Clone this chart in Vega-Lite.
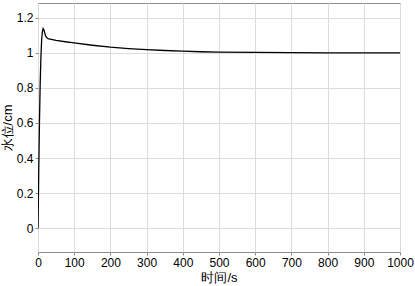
{
  "$schema": "https://vega.github.io/schema/vega-lite/v6.json",
  "width": 362,
  "height": 249,
  "autosize": {"type": "none"},
  "padding": {"left": 38, "top": 3, "right": 15, "bottom": 34},
  "background": "white",
  "config": {
    "font": "Liberation Sans",
    "view": {"stroke": "#8c8c8c", "strokeWidth": 1},
    "axis": {
      "gridColor": "#dcdcdc",
      "gridWidth": 1,
      "domain": false,
      "ticks": true,
      "tickColor": "#8c8c8c",
      "tickSize": 3,
      "labelFont": "Liberation Sans",
      "labelFontSize": 12,
      "labelColor": "#000",
      "labelOverlap": false,
      "labelFlush": false,
      "titleFont": "Liberation Sans",
      "titleFontSize": 13,
      "titleFontWeight": "normal",
      "titleColor": "#000"
    }
  },
  "data": {
    "values": [
      {"t": 0, "h": 0},
      {"t": 1, "h": 0.15},
      {"t": 2, "h": 0.32},
      {"t": 4, "h": 0.6},
      {"t": 6, "h": 0.82},
      {"t": 8, "h": 0.97},
      {"t": 10, "h": 1.07},
      {"t": 12, "h": 1.12},
      {"t": 14, "h": 1.138},
      {"t": 16, "h": 1.132},
      {"t": 19, "h": 1.11},
      {"t": 22, "h": 1.092},
      {"t": 26, "h": 1.083},
      {"t": 30, "h": 1.08},
      {"t": 50, "h": 1.071},
      {"t": 75, "h": 1.063},
      {"t": 100, "h": 1.056},
      {"t": 150, "h": 1.043},
      {"t": 200, "h": 1.032},
      {"t": 250, "h": 1.024},
      {"t": 300, "h": 1.018},
      {"t": 350, "h": 1.013},
      {"t": 400, "h": 1.009},
      {"t": 450, "h": 1.006},
      {"t": 500, "h": 1.004},
      {"t": 600, "h": 1.002},
      {"t": 700, "h": 1.001},
      {"t": 800, "h": 1.0},
      {"t": 1000, "h": 1.0}
    ]
  },
  "mark": {"type": "line", "color": "#000", "strokeWidth": 1.3, "clip": true},
  "encoding": {
    "x": {
      "field": "t",
      "type": "quantitative",
      "scale": {"domain": [0, 1000], "nice": false, "zero": false},
      "axis": {"title": "时间/s", "values": [0,100,200,300,400,500,600,700,800,900,1000], "format": "d", "labelPadding": 2, "titlePadding": 3}
    },
    "y": {
      "field": "h",
      "type": "quantitative",
      "scale": {"domain": [-0.136, 1.284], "nice": false, "zero": false},
      "axis": {"title": "水位/cm", "values": [0, 0.2, 0.4, 0.6, 0.8, 1, 1.2], "format": "~g", "labelPadding": 2, "titlePadding": 2}
    }
  }
}
